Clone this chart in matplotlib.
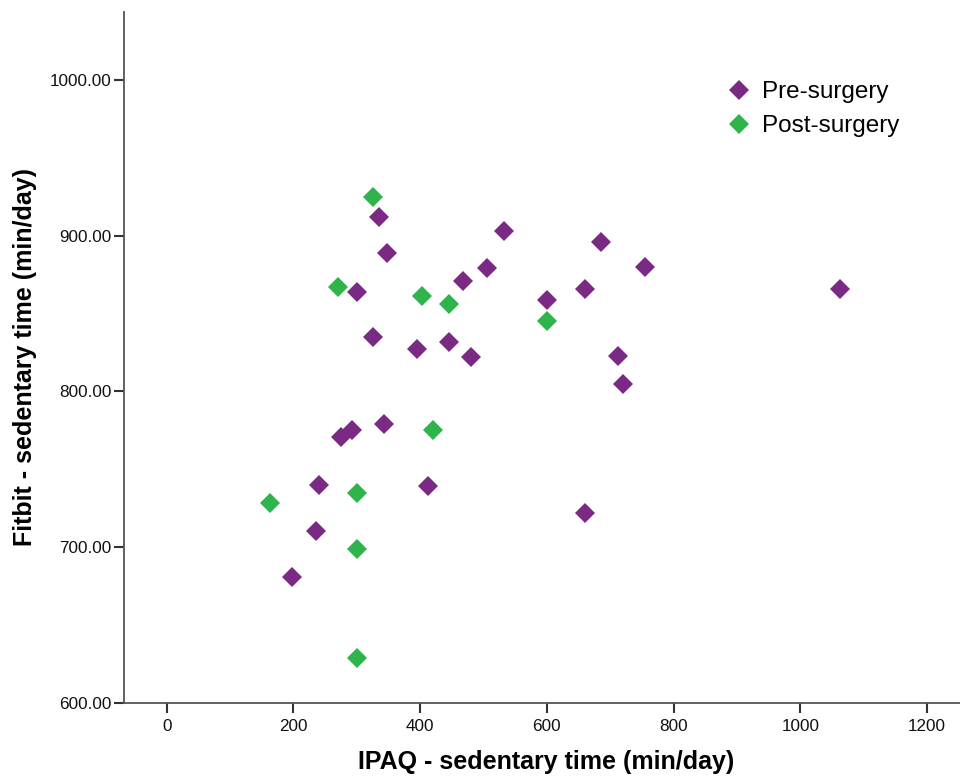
import matplotlib
matplotlib.use("Agg")
import matplotlib.pyplot as plt
from matplotlib.lines import Line2D

plt.rcParams['font.family'] = ['Liberation Sans', 'DejaVu Sans']

pre_x = [335, 348, 300, 468, 506, 532, 326, 395, 446, 480, 275, 292, 343, 240, 412,
         236, 198, 686, 755, 660, 600, 1063, 712, 720, 660]
pre_y = [912, 889, 864, 871, 879, 903, 835, 827, 832, 822, 771, 775, 779, 740, 739,
         710, 681, 896, 880, 866, 859, 866, 823, 805, 722]
post_x = [326, 271, 403, 446, 600, 420, 300, 163, 300, 300]
post_y = [925, 867, 861, 856, 845, 775, 735, 728, 699, 629]

x_ticks = [0, 200, 400, 600, 800, 1000, 1200]
y_ticks = [600, 700, 800, 900, 1000]

pre_color = '#7a2a84'
post_color = '#2fb34b'

fig = plt.figure(figsize=(9.6, 7.76), dpi=100)
ax = fig.add_axes([124.3 / 960, 1 - 702.7 / 776, (960 - 124.3) / 960, (702.7 - 12.3) / 776])

ms = 9.8
ax.plot(post_x, post_y, linestyle='none', marker='D', ms=ms, color=post_color,
        markeredgewidth=0, label='Post-surgery')
ax.plot(pre_x, pre_y, linestyle='none', marker='D', ms=ms, color=pre_color,
        markeredgewidth=0, label='Pre-surgery')

ax.set_xlim(-67, 1252)
ax.set_ylim(600, 1043.5)
ax.set_xticks(x_ticks)
ax.set_yticks(y_ticks)
ax.set_yticklabels([f"{v:.2f}" for v in y_ticks])

for s in ['top', 'right']:
    ax.spines[s].set_visible(False)
for s in ['left', 'bottom']:
    ax.spines[s].set_color('#555555')
    ax.spines[s].set_linewidth(1.3)

ax.tick_params(axis='both', direction='out', length=7.5, width=1.5, color='#333333',
               labelsize=12.3, labelcolor='#111111')
ax.tick_params(axis='y', pad=1.5)
ax.tick_params(axis='x', pad=4)

fig.text(546.5 / 960, 1 - 762 / 776, 'IPAQ - sedentary time (min/day)', fontsize=18,
         fontweight='bold', ha='center', va='center')
fig.text(25 / 960, 1 - 357.5 / 776, 'Fitbit - sedentary time (min/day)', fontsize=18,
         fontweight='bold', ha='center', va='center', rotation=90)

handles = [Line2D([], [], linestyle='none', marker='D', ms=ms, color=pre_color, markeredgewidth=0),
           Line2D([], [], linestyle='none', marker='D', ms=ms, color=post_color, markeredgewidth=0)]
ax.legend(handles, ['Pre-surgery', 'Post-surgery'], frameon=False, fontsize=17.5,
          loc='upper left', bbox_to_anchor=(729 / 960, 1 - 81 / 776),
          bbox_transform=fig.transFigure, handlelength=0.8, handletextpad=0.55,
          labelspacing=0.5, borderpad=0, borderaxespad=0)

fig.savefig('out.png', dpi=100)
